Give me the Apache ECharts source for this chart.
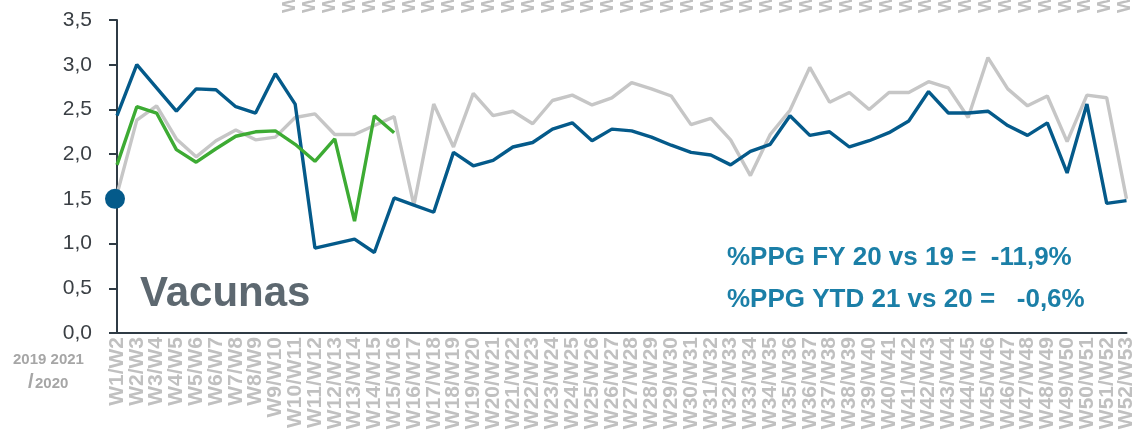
<!DOCTYPE html>
<html><head><meta charset="utf-8">
<script src="https://cdn.jsdelivr.net/npm/echarts@6.0.0/dist/echarts.min.js"></script>
<style>html,body{margin:0;padding:0;background:#fff}#c{width:1137px;height:434px}</style>
</head><body><div id="c"></div>
<script>
const weeks = ["W1/W2","W2/W3","W3/W4","W4/W5","W5/W6","W6/W7","W7/W8","W8/W9","W9/W10","W10/W11",
"W11/W12","W12/W13","W13/W14","W14/W15","W15/W16","W16/W17","W17/W18","W18/W19","W19/W20","W20/W21",
"W21/W22","W22/W23","W23/W24","W24/W25","W25/W26","W26/W27","W27/W28","W28/W29","W29/W30","W30/W31",
"W31/W32","W32/W33","W33/W34","W34/W35","W35/W36","W36/W37","W37/W38","W38/W39","W39/W40","W40/W41",
"W41/W42","W42/W43","W43/W44","W44/W45","W45/W46","W46/W47","W47/W48","W48/W49","W49/W50","W50/W51",
"W51/W52","W52/W53"];
const series2019 = [1.55,2.38,2.54,2.17,1.97,2.15,2.27,2.16,2.19,2.41,2.45,2.22,2.22,2.32,2.42,1.43,2.56,2.08,2.68,2.43,
2.48,2.34,2.60,2.66,2.55,2.63,2.80,2.73,2.65,2.33,2.40,2.16,1.76,2.22,2.49,2.97,2.58,2.69,2.50,2.69,
2.69,2.81,2.74,2.41,3.08,2.73,2.54,2.65,2.14,2.66,2.63,1.50];
const series2020 = [2.43,3.00,2.74,2.48,2.73,2.72,2.53,2.46,2.90,2.56,0.95,1.00,1.05,0.90,1.51,1.43,1.35,2.02,1.87,1.93,
2.08,2.13,2.28,2.35,2.15,2.28,2.26,2.19,2.10,2.02,1.99,1.88,2.03,2.11,2.43,2.21,2.25,2.08,2.15,2.24,
2.37,2.70,2.46,2.46,2.48,2.32,2.21,2.35,1.79,2.56,1.45,1.48];
const series2021 = [1.88,2.53,2.46,2.05,1.91,2.06,2.20,2.25,2.26,2.11,1.92,2.17,1.25,2.43,2.24];
const markerPoint = [1.5];
const yTicks = {min: 0, max: 3.5, interval: 0.5};
const topLabels = ["W1/W2","W2/W3","W3/W4","W4/W5","W5/W6","W6/W7","W7/W8","W8/W9","W9/W10","W10/W11",
"W11/W12","W12/W13","W13/W14","W14/W15","W15/W16","W16/W17","W17/W18","W18/W19","W19/W20","W20/W21",
"W21/W22","W22/W23","W23/W24","W24/W25","W25/W26","W26/W27","W27/W28","W28/W29","W29/W30","W30/W31",
"W31/W32","W32/W33","W33/W34","W34/W35","W35/W36","W36/W37","W37/W38","W38/W39","W39/W40","W40/W41",
"W41/W42","W42/W43","W43/W44"];
const yearLabelTop = "2019 2021";
const yearLabelBottom = "2020";
const titleText = "Vacunas";
const note1 = "%PPG FY 20 vs 19 =  -11,9%";
const note2 = "%PPG YTD 21 vs 20 =   -0,6%";

const chart = echarts.init(document.getElementById('c'), null, {renderer: 'canvas'});
const FONT = 'Liberation Sans, Arial, sans-serif';
chart.setOption({
  animation: false,
  grid: [
    {left: 117, right: 10, top: 20, bottom: 101, containLabel: false},
    {left: 290, right: 12, top: 3, height: 10}
  ],
  xAxis: [
    {type: 'category', gridIndex: 0, data: weeks, boundaryGap: false,
     axisLine: {lineStyle: {color: '#2f3b45', width: 2}},
     axisTick: {show: false},
     axisLabel: {interval: 0, rotate: 90, margin: 4, color: '#c0c0c0', fontSize: 21, fontWeight: 'bold', fontFamily: FONT},
     splitLine: {show: false}},
    {type: 'category', gridIndex: 1, data: topLabels, boundaryGap: false, position: 'top',
     axisLine: {show: false}, axisTick: {show: false},
     axisLabel: {interval: 0, rotate: 90, margin: 0, color: '#c0c0c0', fontSize: 19, fontWeight: 'bold', fontFamily: FONT}}
  ],
  yAxis: [
    {type: 'value', gridIndex: 0, min: yTicks.min, max: yTicks.max, interval: yTicks.interval,
     axisLine: {show: true, lineStyle: {color: '#2f3b45', width: 2}},
     axisTick: {show: true, length: 8, lineStyle: {color: '#2f3b45', width: 2}},
     axisLabel: {margin: 25, color: '#3a3f44', fontSize: 21, fontFamily: FONT,
       formatter: v => v.toFixed(1).replace('.', ',')},
     splitLine: {show: false}},
    {type: 'value', gridIndex: 1, show: false}
  ],
  series: [
    {name: '2019', type: 'line', data: series2019, symbol: 'none', z: 2,
     lineStyle: {color: '#c6c6c6', width: 3.4}},
    {name: '2020', type: 'line', data: series2020, symbol: 'none', z: 3,
     lineStyle: {color: '#045a8a', width: 3.4}},
    {name: '2021', type: 'line', data: series2021, symbol: 'none', z: 4,
     lineStyle: {color: '#3dab33', width: 3.4}},
    {name: 'marker', type: 'scatter', data: markerPoint, symbolSize: 20, z: 5, symbolOffset: [-2, 0],
     itemStyle: {color: '#045a8a', opacity: 1}},
    {type: 'line', xAxisIndex: 1, yAxisIndex: 1, data: [], symbol: 'none'}
  ],
  graphic: [
    {type: 'text', left: 140, top: 273, style: {text: titleText, fill: '#5d6870', font: 'bold 42px ' + FONT}},
    {type: 'text', left: 727, top: 245, style: {text: note1, fill: '#1b7fa7', font: 'bold 26px ' + FONT}},
    {type: 'text', left: 727, top: 287, style: {text: note2, fill: '#1b7fa7', font: 'bold 26px ' + FONT}},
    {type: 'text', left: 13, top: 352, style: {text: yearLabelTop, fill: '#a6a6a6', font: 'bold 15px ' + FONT}},
    {type: 'text', left: 28, top: 372, style: {text: '/', fill: '#a6a6a6', font: 'bold 20px ' + FONT}},
    {type: 'text', left: 35, top: 376, style: {text: yearLabelBottom, fill: '#a6a6a6', font: 'bold 15px ' + FONT}}
  ]
});
</script>
</body></html>
